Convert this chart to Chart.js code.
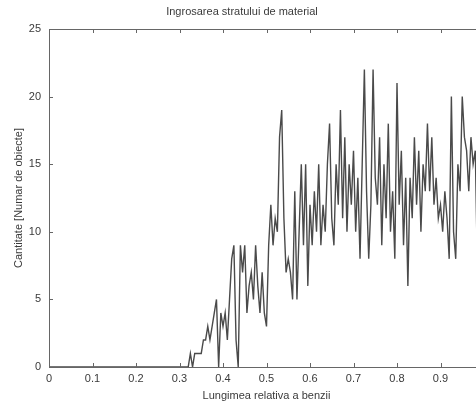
<!DOCTYPE html>
<html>
<head>
<meta charset="utf-8">
<script src="https://cdn.jsdelivr.net/npm/chart.js@4/dist/chart.umd.min.js"></script>
<style>
  html, body { margin: 0; padding: 0; background: #fff; overflow: hidden; }
  #wrap { width: 476px; height: 406px; overflow: hidden; }
  canvas { display: block; }
</style>
</head>
<body>
<div id="wrap"><canvas id="c" width="484" height="406"></canvas></div>
<script>
// Relative strip length sampled every 0.005, starting at 0
const xStart = 0;
const xStep = 0.005;

// Object counts at each sample
const counts = [
  0, 0, 0, 0, 0, 0, 0, 0, 0, 0, 0, 0, 0, 0, 0, 0,   // 0.000 - 0.075
  0, 0, 0, 0, 0, 0, 0, 0, 0, 0, 0, 0, 0, 0, 0, 0,   // 0.080 - 0.155
  0, 0, 0, 0, 0, 0, 0, 0, 0, 0, 0, 0, 0, 0, 0, 0,   // 0.160 - 0.235
  0, 0, 0, 0, 0, 0, 0, 0, 0, 0, 0, 0, 0, 0, 0, 0,   // 0.240 - 0.315
  0, 1, 0, 1, 1, 1, 1, 2, 2, 3, 2, 3, 4, 5, 0, 4,   // 0.320 - 0.395
  3, 4, 2, 5, 8, 9, 2, 0, 9, 7, 9, 4, 6, 7, 5, 9,   // 0.400 - 0.475
  6, 4, 7, 4, 3, 9, 12, 9, 11, 10, 17, 19, 11, 7, 8, 7, // 0.480 - 0.555
  5, 13, 5, 10, 15, 9, 15, 6, 12, 9, 13, 10, 15, 9, 12, 10, // 0.560 - 0.635
  15, 18, 11, 9, 15, 12, 19, 11, 17, 10, 15, 12, 16, 10, 14, 8, // 0.640 - 0.715
  15, 22, 13, 8, 12, 22, 14, 12, 17, 9, 15, 11, 18, 10, 13, 8, // 0.720 - 0.795
  21, 12, 16, 9, 14, 6, 14, 11, 17, 12, 16, 10, 15, 13, 18, 13, // 0.800 - 0.875
  17, 12, 14, 11, 12, 10, 13, 11, 8, 20, 10, 8, 15, 13, 20, 17, // 0.880 - 0.955
  16, 13, 17, 15, 16, 7, 9, 8, 8                     // 0.960 - 1.000
];

// Axis ticks
const xTicks = [0, 0.1, 0.2, 0.3, 0.4, 0.5, 0.6, 0.7, 0.8, 0.9, 1];
const yTicks = [0, 5, 10, 15, 20, 25];

const chartTitle = 'Ingrosarea stratului de material';
const xTitle = 'Lungimea relativa a benzii';
const yTitle = 'Cantitate [Numar de obiecte]';

const points = counts.map((v, i) => ({ x: +(xStart + i * xStep).toFixed(3), y: v }));

const axisColor = '#666';
const textColor = '#3a3a3a';
const font = { family: '"Liberation Sans", Arial, sans-serif', size: 11 };

// Box around the plot and inward tick marks on every side
const framePlugin = {
  id: 'frame',
  afterDraw(chart) {
    const { ctx, chartArea: a, scales } = chart;
    const len = 4;
    ctx.save();
    ctx.strokeStyle = axisColor;
    ctx.lineWidth = 1;
    ctx.beginPath();
    ctx.moveTo(a.left, a.top + 0.5);
    ctx.lineTo(a.right, a.top + 0.5);
    ctx.moveTo(a.right - 0.5, a.top);
    ctx.lineTo(a.right - 0.5, a.bottom);
    xTicks.forEach(t => {
      const px = Math.round(scales.x.getPixelForValue(t)) + 0.5;
      ctx.moveTo(px, a.bottom);
      ctx.lineTo(px, a.bottom - len);
      ctx.moveTo(px, a.top);
      ctx.lineTo(px, a.top + len);
    });
    yTicks.forEach(t => {
      const py = Math.round(scales.y.getPixelForValue(t)) + 0.5;
      ctx.moveTo(a.left, py);
      ctx.lineTo(a.left + len, py);
      ctx.moveTo(a.right, py);
      ctx.lineTo(a.right - len, py);
    });
    ctx.stroke();
    ctx.restore();
  }
};

new Chart(document.getElementById('c'), {
  type: 'line',
  data: {
    datasets: [{
      data: points,
      borderColor: '#4a4a4a',
      borderWidth: 1.4,
      pointRadius: 0,
      tension: 0,
      fill: false
    }]
  },
  options: {
    responsive: false,
    animation: false,
    layout: { padding: { left: 0, right: 0, top: 0, bottom: 0 } },
    plugins: {
      legend: { display: false },
      tooltip: { enabled: false },
      title: {
        display: true,
        text: chartTitle,
        color: textColor,
        font: { ...font, weight: 'normal' },
        padding: { top: 5, bottom: 10.8 }
      }
    },
    scales: {
      x: {
        type: 'linear',
        min: 0,
        max: 1,
        afterBuildTicks(scale) { scale.ticks = xTicks.map(v => ({ value: v })); },
        afterFit(scale) { scale.height = 39; scale.paddingLeft = 0; scale.paddingRight = 0; },
        ticks: {
          color: textColor,
          font,
          padding: 5,
          maxRotation: 0,
          autoSkip: false,
          callback: v => String(+v.toFixed(1))
        },
        grid: { display: false, drawTicks: false },
        border: { display: true, color: axisColor },
        title: {
          display: true,
          text: xTitle,
          color: textColor,
          font,
          padding: { top: 0, bottom: 3 }
        }
      },
      y: {
        min: 0,
        max: 25,
        afterBuildTicks(scale) { scale.ticks = yTicks.map(v => ({ value: v })); },
        afterFit(scale) { scale.width = 49; },
        ticks: {
          color: textColor,
          font,
          padding: 8,
          autoSkip: false
        },
        grid: { display: false, drawTicks: false },
        border: { display: true, color: axisColor },
        title: {
          display: true,
          text: yTitle,
          color: textColor,
          font,
          padding: { top: 12, bottom: 0 }
        }
      }
    }
  },
  plugins: [framePlugin]
});
</script>
</body>
</html>
